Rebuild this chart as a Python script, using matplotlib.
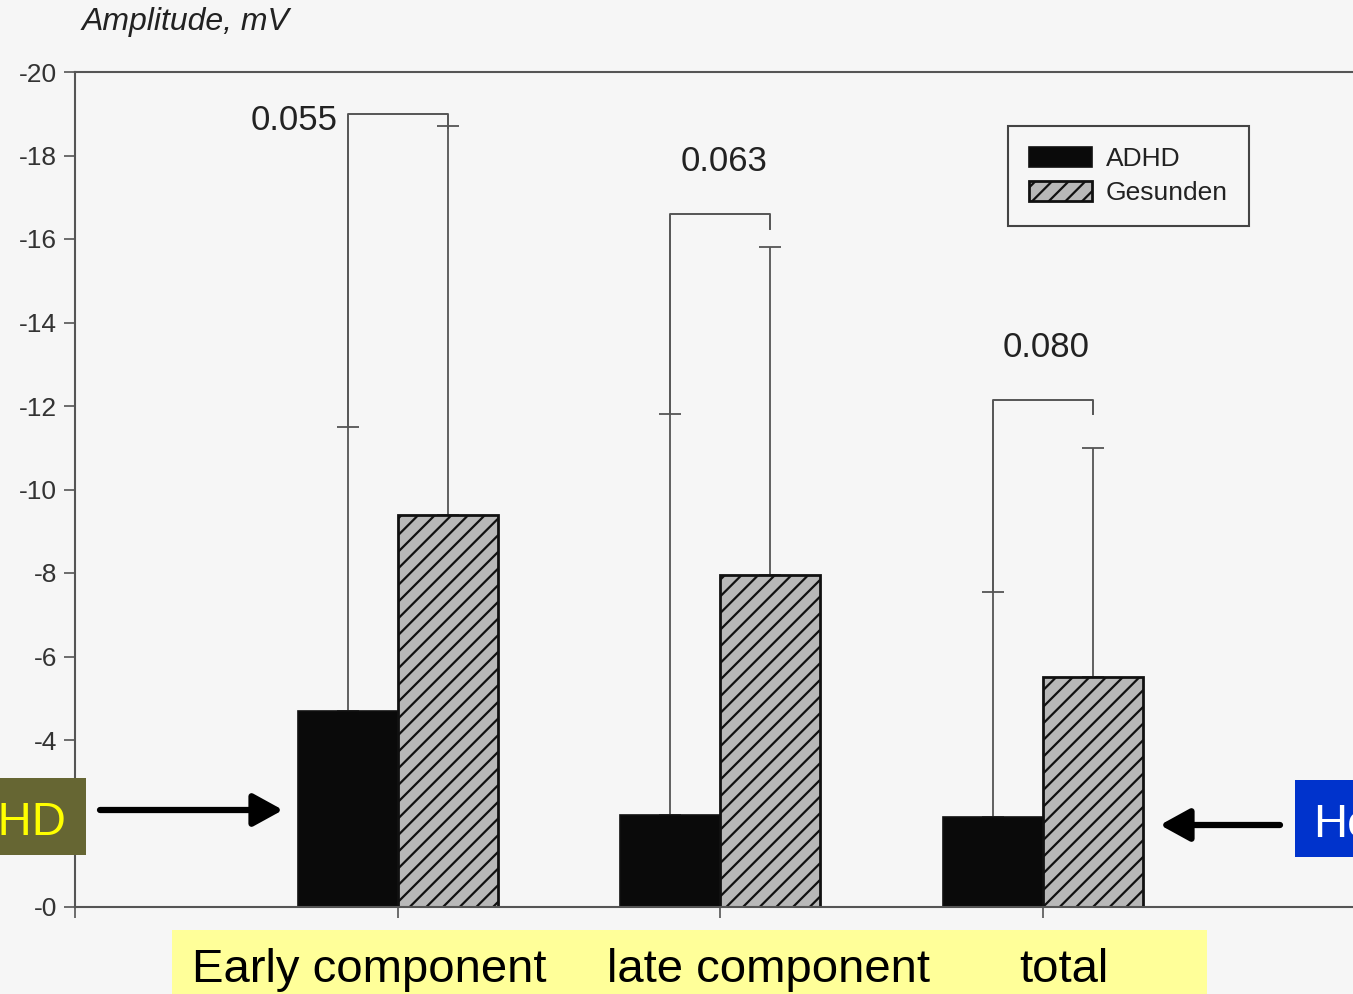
import numpy as np
import matplotlib
matplotlib.use("Agg")
import matplotlib.pyplot as plt
from matplotlib.patches import Rectangle

plt.rcParams['font.family'] = ['Liberation Sans', 'DejaVu Sans']
plt.rcParams['hatch.linewidth'] = 1.6

# Daten (Amplituden in mV, negativ)
groups = ['Early component', 'late component', 'total']
adhd = [-4.7, -2.2, -2.15]
gesunden = [-9.4, -7.95, -5.5]
adhd_sd = [6.8, 9.6, 5.4]
gesunden_sd = [9.3, 7.85, 5.5]
p_values = ['0.055', '0.063', '0.080']
bracket_y = [-19.0, -16.6, -12.15]
y_ticks = [0, -2, -4, -6, -8, -10, -12, -14, -16, -18, -20]
# -2 liegt hinter dem ADHD-Kasten
y_labels = ['-0', '', '-4', '-6', '-8', '-10', '-12', '-14', '-16', '-18', '-20']

bg = '#f6f6f6'
W, H = 1353, 994
fig = plt.figure(figsize=(W / 100, H / 100), dpi=100, facecolor=bg)
ax = fig.add_axes([75 / W, 87 / H, 1278 / W, 835 / H], facecolor=bg)

x = np.arange(1, len(groups) + 1)
w = 0.31
xa = x - w / 2
xg = x + w / 2

ax.errorbar(xa, adhd, yerr=[adhd_sd, np.zeros(3)], fmt='none', ecolor='#555555',
            elinewidth=1.3, capsize=8, capthick=1.3, zorder=1)
ax.errorbar(xg, gesunden, yerr=[gesunden_sd, np.zeros(3)], fmt='none', ecolor='#555555',
            elinewidth=1.3, capsize=8, capthick=1.3, zorder=1)
ax.bar(xa, adhd, w, color='#0a0a0a', edgecolor='#111111', linewidth=1.2,
       label='ADHD', zorder=2)
ax.bar(xg, gesunden, w, color='#b8b8b8', edgecolor='#111111', linewidth=2,
       hatch='//', label='Gesunden', zorder=2)

# Signifikanz-Klammern
for i in range(3):
    top = adhd[i] - adhd_sd[i]
    ax.plot([xa[i], xa[i], xg[i], xg[i]],
            [top, bracket_y[i], bracket_y[i], bracket_y[i] + 0.35],
            color='#555555', lw=1.4, zorder=1)
    if i == 0:
        ax.text(xa[i] - 0.03, bracket_y[i] + 0.15, p_values[i], ha='right',
                va='center', fontsize=25, color='#222222')
    else:
        ax.text(x[i] + 0.01, bracket_y[i] - 1.25, p_values[i], ha='center',
                va='center', fontsize=25, color='#222222')

ax.set_xlim(0, 3.96)
ax.set_ylim(0, -20)
ax.set_yticks(y_ticks)
ax.set_yticklabels(y_labels, fontsize=19, color='#333333')
ax.set_xticks([0, 1, 2, 3])
ax.set_xticklabels([])
ax.tick_params(axis='both', direction='out', length=8, width=1.2, color='#555555')
ax.tick_params(axis='y', pad=5)
for s in ['left', 'bottom', 'top']:
    ax.spines[s].set_color('#555555')
    ax.spines[s].set_linewidth(1.5)
ax.spines['right'].set_visible(False)

leg = ax.legend(loc='upper left', bbox_to_anchor=(1008 / W, 1 - 126 / H),
                bbox_transform=fig.transFigure, fontsize=19, frameon=True,
                fancybox=False, edgecolor='#444444', facecolor=bg, framealpha=1,
                handlelength=2.4, handleheight=0.8, handletextpad=0.5,
                labelspacing=0.35, borderpad=0.8, borderaxespad=0)
leg.get_frame().set_linewidth(1.5)
for t in leg.get_texts():
    t.set_color('#222222')

fig.text(82 / W, 1 - 22 / H, 'Amplitude, mV', style='italic', fontsize=23,
         va='center', ha='left', color='#222222')

# gelbe Box mit Gruppennamen
fig.patches.append(Rectangle((172 / W, 0), (1207 - 172) / W, 64 / H,
                             transform=fig.transFigure, facecolor='#ffff99',
                             edgecolor='none', zorder=0))
for name, px in zip(groups, [192, 607, 1019]):
    fig.text(px / W, 12 / H, name, fontsize=34, ha='left', va='baseline',
             color='black')

# Markierungen links/rechts
fig.patches.append(Rectangle((0, 1 - 855 / H), 86 / W, 77 / H,
                             transform=fig.transFigure, facecolor='#666633',
                             edgecolor='none', zorder=5))
fig.text(67 / W, 1 - 835 / H, 'ADHD', fontsize=34, ha='right', va='baseline',
         color='#ffff00', zorder=6)
fig.patches.append(Rectangle((1295 / W, 1 - 857 / H), 58 / W, 77 / H,
                             transform=fig.transFigure, facecolor='#0033cc',
                             edgecolor='none', zorder=5))
fig.text(1313 / W, 1 - 837 / H, 'Healthy', fontsize=34, ha='left', va='baseline',
         color='white', zorder=6)

arrow = dict(arrowstyle='-|>,head_length=0.6,head_width=0.33', lw=4.5,
             color='black', mutation_scale=30, shrinkA=0, shrinkB=0)
ax.annotate('', xy=(283, H - 810), xytext=(100, H - 810),
            xycoords='figure pixels', textcoords='figure pixels', arrowprops=arrow)
ax.annotate('', xy=(1160, H - 825), xytext=(1280, H - 825),
            xycoords='figure pixels', textcoords='figure pixels', arrowprops=arrow)

fig.savefig('out.png', dpi=100, facecolor=bg)
